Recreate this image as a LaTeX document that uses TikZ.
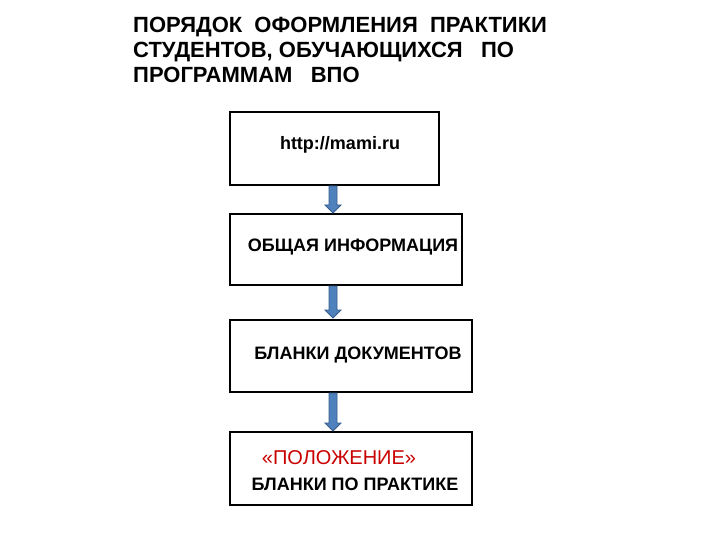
\documentclass[tikz,border=0pt]{standalone}
\usepackage{fontspec}
\setmainfont{Liberation Sans}
\begin{document}
\begin{tikzpicture}[x=1pt,y=-1pt,
  box/.style={draw,line width=1.2pt,inner sep=0pt},
  lbl/.style={font=\bfseries\fontsize{18}{20}\selectfont},
  barrow/.style={fill={rgb,255:red,79;green,129;blue,189},draw={rgb,255:red,56;green,93;blue,138},line width=0.8pt}]
\useasboundingbox (0,0) rectangle (720,540);
\node[anchor=west,align=left,inner sep=0pt,font=\bfseries\fontsize{22}{25}\selectfont] (title) at (133,50)
 {ПОРЯДОК\ \ ОФОРМЛЕНИЯ\ \ ПРАКТИКИ\\СТУДЕНТОВ, ОБУЧАЮЩИХСЯ\ \ \ ПО\\ПРОГРАММАМ\ \ \ ВПО};
\draw[box] (230,112) rectangle (439,185) node[midway] (b1) {};
\draw[box] (230,214) rectangle (462,285) node[midway] (b2) {};
\draw[box] (230,320) rectangle (472,392) node[midway] (b3) {};
\draw[box] (230,432) rectangle (472,505) node[midway] (b4) {};
\node[lbl] (t1) at (340,145) {http://mami.ru};
\node[lbl] (t2) at (353,247) {ОБЩАЯ ИНФОРМАЦИЯ};
\node[lbl] (t3) at (358,355) {БЛАНКИ ДОКУМЕНТОВ};
\node[font=\fontsize{20}{22}\selectfont,text={rgb,255:red,200;green,0;blue,0}] (t4) at (339,458) {«ПОЛОЖЕНИЕ»};
\node[lbl] (t5) at (355,484) {БЛАНКИ ПО ПРАКТИКЕ};
\foreach \a/\b in {186/213,286/318,393/431}{
 \draw[barrow] (329,\a) -- (337,\a) -- (337,\b-8) -- (341,\b-8) -- (333,\b) -- (325,\b-8) -- (329,\b-8) -- cycle;
}
\end{tikzpicture}
\end{document}
